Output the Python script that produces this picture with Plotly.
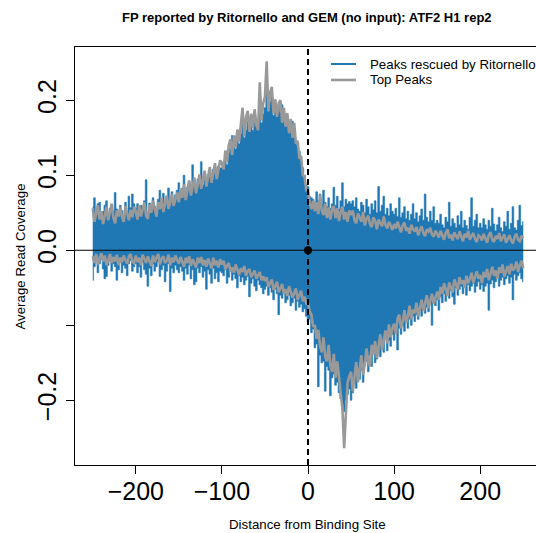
import plotly.graph_objects as go

# Positions relative to the binding site (bp), one value every 2 bp
positions = list(range(-250, 251, 2))

# Average read coverage, in units of 1e-3
rescued_plus_milli = [
    58, 70, 50, 62, 64, 45, 52, 60, 66, 48, 56, 61, 52, 77, 55, 49, 60, 53, 46, 64, 50, 72, 57, 75, 62,
    56, 62, 52, 60, 58, 66, 94, 50, 63, 57, 70, 59, 55, 68, 80, 64, 76, 62, 72, 83, 60, 78, 66, 74, 80,
    90, 74, 83, 100, 75, 84, 92, 80, 114, 88, 84, 95, 90, 118, 87, 104, 92, 101, 99, 97, 108, 105, 102, 112, 110,
    110, 118, 120, 114, 130, 136, 153, 140, 135, 150, 142, 155, 170, 150, 160, 172, 158, 170, 160, 175, 165, 160, 200, 170, 182,
    190, 230, 185, 198, 205, 180, 190, 178, 184, 198, 194, 178, 165, 172, 158, 165, 172, 160, 145, 138, 132, 118, 110, 100, 88,
    85, 72, 70, 68, 64, 78, 66, 75, 62, 80, 64, 58, 70, 56, 62, 84, 60, 72, 55, 66, 90, 58, 68, 62, 65,
    62, 66, 58, 70, 55, 52, 64, 60, 50, 68, 58, 48, 62, 54, 66, 50, 85, 52, 60, 72, 48, 56, 46, 62, 52,
    48, 56, 45, 70, 44, 50, 58, 42, 52, 40, 48, 62, 42, 50, 38, 46, 55, 40, 75, 44, 38, 52, 40, 58, 36,
    40, 36, 48, 34, 30, 44, 38, 64, 32, 42, 36, 30, 46, 34, 52, 30, 40, 33, 28, 44, 70, 32, 40, 48, 30,
    36, 30, 42, 34, 28, 40, 32, 56, 35, 26, 34, 44, 30, 25, 38, 32, 52, 28, 36, 58, 30, 27, 40, 60, 33, 38,
]
rescued_minus_milli = [
    -40, -22, -15, -30, -18, -12, -25, -38, -35, -20, -14, -28, -18, -22, -40, -26, -16, -30, -20, -24, -34, -18, -14, -28, -22,
    -18, -30, -22, -36, -16, -26, -32, -48, -24, -34, -18, -28, -22, -15, -35, -26, -20, -42, -28, -18, -55, -24, -30, -20, -26,
    -30, -22, -28, -40, -24, -32, -20, -38, -26, -46, -42, -24, -30, -22, -36, -28, -52, -26, -32, -44, -24, -38, -30, -42, -28,
    -30, -34, -26, -44, -36, -28, -40, -32, -38, -50, -34, -42, -36, -46, -40, -35, -62, -44, -38, -48, -54, -40, -46, -50, -58,
    -52, -48, -60, -50, -56, -66, -52, -58, -86, -60, -64, -58, -70, -66, -60, -74, -70, -64, -80, -68, -76, -72, -82, -78, -88,
    -95, -92, -110, -105, -130, -125, -182, -140, -150, -148, -188, -155, -160, -194, -170, -165, -180, -176, -190, -198, -205, -215, -200, -192, -185,
    -200, -190, -175, -184, -168, -172, -160, -176, -150, -148, -162, -140, -155, -134, -150, -145, -128, -142, -130, -136, -118, -134, -120, -128, -112,
    -120, -110, -133, -104, -112, -100, -108, -96, -104, -92, -100, -88, -95, -86, -92, -80, -88, -78, -84, -76, -82, -70, -100, -68, -74,
    -66, -80, -62, -70, -58, -68, -56, -64, -54, -62, -72, -50, -60, -52, -48, -58, -50, -60, -46, -54, -48, -44, -56, -48, -42,
    -52, -46, -55, -48, -44, -80, -45, -40, -50, -42, -38, -48, -40, -36, -46, -38, -34, -44, -36, -66, -32, -40, -34, -30, -38, -42,
]
top_plus_milli = [
    56, 38, 49, 60, 41, 52, 35, 47, 58, 40, 50, 62, 43, 36, 53, 45, 57, 44, 38, 59, 49, 40, 54, 44, 58,
    52, 41, 60, 45, 55, 64, 46, 42, 61, 50, 66, 53, 45, 64, 55, 70, 51, 62, 73, 55, 67, 75, 59, 70, 77,
    64, 82, 70, 88, 67, 83, 93, 73, 86, 97, 76, 90, 101, 82, 95, 106, 85, 100, 111, 90, 106, 116, 95, 110, 120,
    115, 108, 133, 118, 140, 148, 127, 153, 137, 161, 145, 168, 190, 152, 177, 186, 158, 182, 163, 188, 168, 160, 224, 173, 196,
    205, 252, 186, 210, 218, 182, 201, 178, 196, 200, 170, 190, 165, 183, 156, 175, 150, 170, 142, 146, 122, 126, 100, 98, 80,
    80, 62, 55, 66, 52, 64, 48, 74, 53, 47, 62, 43, 57, 41, 54, 59, 43, 56, 39, 52, 58, 41, 51, 38, 53,
    47, 53, 40, 36, 49, 44, 38, 51, 33, 42, 46, 35, 31, 44, 39, 28, 41, 36, 32, 45, 34, 29, 38, 33, 27,
    35, 29, 38, 31, 24, 33, 37, 26, 30, 22, 34, 28, 25, 31, 20, 27, 32, 23, 19, 28, 25, 30, 21, 18, 26,
    22, 17, 26, 20, 14, 23, 28, 16, 21, 13, 24, 19, 15, 25, 18, 12, 22, 17, 26, 14, 19, 23, 15, 11, 20,
    18, 13, 22, 16, 10, 20, 24, 14, 11, 19, 15, 23, 12, 17, 21, 10, 16, 20, 13, 9, 18, 22, 14, 12, 19, 16,
]
top_minus_milli = [
    -8, -17, -5, -19, -10, -4, -15, -7, -20, -11, -5, -17, -9, -15, -6, -20, -10, -16, -7, -13, -18, -8, -5, -15, -17,
    -7, -16, -10, -20, -6, -13, -17, -8, -15, -21, -7, -16, -10, -5, -19, -11, -8, -17, -14, -6, -20, -10, -16, -7, -13,
    -18, -9, -15, -22, -10, -17, -8, -21, -12, -18, -23, -10, -17, -9, -20, -13, -22, -11, -18, -24, -10, -20, -14, -23, -12,
    -19, -14, -25, -21, -17, -28, -23, -30, -19, -26, -33, -24, -29, -21, -34, -28, -25, -36, -31, -27, -38, -33, -29, -40, -35,
    -41, -36, -49, -44, -39, -53, -47, -42, -56, -50, -45, -58, -52, -61, -48, -55, -63, -57, -51, -66, -59, -54, -68, -62, -71,
    -70, -82, -86, -102, -100, -118, -106, -128, -136, -116, -142, -148, -126, -154, -162, -138, -170, -148, -174, -190, -212, -264, -218, -176, -168,
    -162, -188, -171, -149, -176, -158, -140, -166, -152, -131, -148, -155, -126, -139, -121, -144, -128, -112, -133, -118, -107, -124, -99, -116, -104,
    -98, -112, -91, -86, -104, -95, -80, -97, -88, -74, -92, -79, -84, -70, -88, -76, -66, -81, -72, -60, -77, -67, -58, -71, -62,
    -55, -66, -49, -58, -44, -52, -61, -43, -49, -56, -39, -47, -52, -36, -45, -40, -50, -34, -44, -38, -30, -43, -36, -28, -38,
    -33, -44, -29, -36, -25, -40, -31, -22, -34, -27, -38, -23, -30, -19, -35, -26, -21, -32, -18, -27, -24, -15, -29, -20, -14, -24,
]

x_tick_values = [-200, -100, 0, 100, 200]
x_tick_labels = ["\u2212200", "\u2212100", "0", "100", "200"]
y_tick_values = [-0.2, -0.1, 0.0, 0.1, 0.2]
y_tick_labels = ["\u22120.2", "", "0.0", "0.1", "0.2"]

series_names = ["Peaks rescued by Ritornello", "Top Peaks"]

for s in (rescued_plus_milli, rescued_minus_milli, top_plus_milli, top_minus_milli):
    assert len(s) == len(positions)


def to_cov(vals):
    return [v / 1000 for v in vals]


BLUE = "#1f77b4"
GRAY = "#999999"
FONT = "Liberation Sans, Arial, Helvetica, sans-serif"

fig = go.Figure()

# Rescued peaks: dense per-position bars, drawn as filled steps
for vals in (rescued_plus_milli, rescued_minus_milli):
    fig.add_trace(go.Scatter(
        x=positions, y=to_cov(vals), mode="lines",
        line=dict(color=BLUE, width=0.6, shape="hvh"),
        fill="tozeroy", fillcolor=BLUE,
        showlegend=False, hoverinfo="skip",
    ))

# Top peaks profile
for vals in (top_plus_milli, top_minus_milli):
    fig.add_trace(go.Scatter(
        x=positions, y=to_cov(vals), mode="lines",
        line=dict(color=GRAY, width=2.6),
        showlegend=False, hoverinfo="skip",
    ))

# Binding site marker
fig.add_trace(go.Scatter(
    x=[0], y=[0], mode="markers",
    marker=dict(color="black", size=8),
    showlegend=False, hoverinfo="skip",
))

shapes = [
    dict(type="line", xref="paper", yref="y", x0=0, x1=1, y0=0, y1=0,
         line=dict(color="black", width=1.2), layer="above"),
    dict(type="line", xref="x", yref="paper", x0=0, x1=0, y0=0, y1=1,
         line=dict(color="black", width=2, dash="6px,4px"), layer="above"),
]

# Legend drawn by hand (no frame)
legend_rows = [(0.9593, BLUE, 2.0), (0.9211, GRAY, 2.6)]
annotations = []
for (ypos, col, w), name in zip(legend_rows, series_names):
    shapes.append(dict(type="line", xref="paper", yref="paper",
                       x0=0.5553, x1=0.6095, y0=ypos, y1=ypos,
                       line=dict(color=col, width=w)))
    annotations.append(dict(xref="paper", yref="paper", x=0.6356, y=ypos,
                            xanchor="left", yanchor="middle", showarrow=False,
                            text=name, font=dict(family=FONT, size=13.3, color="black")))

annotations += [
    dict(xref="paper", yref="paper", x=0.5054, y=-0.142, xanchor="center",
         yanchor="middle", showarrow=False, text="Distance from Binding Site",
         font=dict(family=FONT, size=13.3, color="black")),
    dict(xref="paper", yref="paper", x=-0.119, y=0.499, xanchor="center",
         yanchor="middle", showarrow=False, text="Average Read Coverage", textangle=-90,
         font=dict(family=FONT, size=13.3, color="black")),
    dict(xref="paper", yref="paper", x=0.5033, y=1.0, yshift=30, xanchor="center",
         yanchor="middle", showarrow=False,
         text="<b>FP reported by Ritornello and GEM (no input): ATF2 H1 rep2</b>",
         font=dict(family=FONT, size=13, color="black")),
]

fig.update_layout(
    width=536, height=533,
    margin=dict(l=75, r=0, t=47, b=68),
    paper_bgcolor="white", plot_bgcolor="white",
    shapes=shapes, annotations=annotations,
    showlegend=False,
    xaxis=dict(
        range=[-270.6, 264.8], tickmode="array",
        tickvals=x_tick_values, ticktext=x_tick_labels,
        ticks="outside", ticklen=8, tickwidth=1, tickcolor="black",
        ticklabelstandoff=-4,
        showline=True, linecolor="black", linewidth=1, mirror=True,
        showgrid=False, zeroline=False,
        tickfont=dict(family=FONT, size=25, color="black"),
    ),
    yaxis=dict(
        range=[-0.2863, 0.271], tickmode="array",
        tickvals=y_tick_values, ticktext=y_tick_labels, tickangle=-90,
        ticks="outside", ticklen=8, tickwidth=1, tickcolor="black",
        showline=True, linecolor="black", linewidth=1, mirror=False,
        showgrid=False, zeroline=False,
        tickfont=dict(family=FONT, size=25, color="black"),
    ),
)

fig.write_html("out.html")
